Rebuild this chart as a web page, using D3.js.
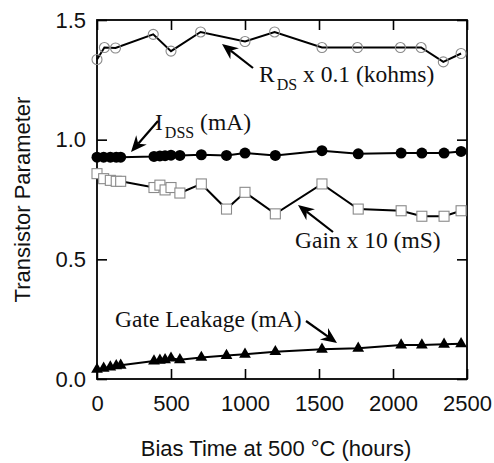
<!DOCTYPE html>
<html>
<head>
<meta charset="utf-8">
<script src="https://cdn.jsdelivr.net/npm/d3@7"></script>
<style>
  html, body { margin: 0; padding: 0; background: #fff; }
  svg { display: block; }
</style>
</head>
<body>
<svg id="chart" width="494" height="463"></svg>
<script>
// ---- data ----
const rdsHours   = [0, 50, 125, 380, 500, 700, 1000, 1200, 1520, 1760, 2050, 2190, 2340, 2460];
const rdsValues  = [1.335, 1.385, 1.383, 1.44, 1.37, 1.45, 1.41, 1.45, 1.385, 1.385, 1.385, 1.385, 1.325, 1.36];

const commonHours = [0, 45, 90, 130, 160, 385, 425, 460, 500, 560, 705, 875, 1000, 1205, 1520, 1765, 2055, 2195, 2345, 2460];
const idssValues  = [0.927, 0.927, 0.927, 0.927, 0.927, 0.93, 0.932, 0.933, 0.935, 0.934, 0.937, 0.934, 0.944, 0.934, 0.954, 0.941, 0.944, 0.944, 0.944, 0.951];
const gainValues  = [0.858, 0.837, 0.83, 0.826, 0.826, 0.80, 0.81, 0.79, 0.80, 0.777, 0.815, 0.71, 0.78, 0.69, 0.815, 0.71, 0.703, 0.68, 0.68, 0.703];
const leakValues  = [0.04, 0.045, 0.05, 0.055, 0.057, 0.075, 0.078, 0.08, 0.087, 0.08, 0.09, 0.098, 0.103, 0.114, 0.124, 0.128, 0.142, 0.142, 0.145, 0.147];

const xTicks = [0, 500, 1000, 1500, 2000, 2500];
const yTicks = [0.0, 0.5, 1.0, 1.5];
const xTitle = "Bias Time at 500 °C (hours)";
const yTitle = "Transistor Parameter";

// ---- layout ----
const W = 494, H = 463;
const m = {left: 97, right: 27, top: 20, bottom: 84};
const iw = W - m.left - m.right, ih = H - m.top - m.bottom;

const svg = d3.select("#chart");
const g = svg.append("g").attr("transform", `translate(${m.left},${m.top})`);

const x = d3.scaleLinear().domain([0, 2500]).range([0, iw]);
const y = d3.scaleLinear().domain([0, 1.5]).range([ih, 0]);

const sans = "Liberation Sans, Arial, Helvetica, sans-serif";
const serif = "Liberation Serif, Times New Roman, serif";

// axes
function styleAxis(sel, showLabels) {
  sel.select(".domain").remove();
  sel.selectAll(".tick line").attr("stroke", "#000").attr("stroke-width", 1.6);
  sel.selectAll(".tick text").attr("fill", "#111").style("font-family", sans).style("font-size", "22px");
  if (!showLabels) sel.selectAll(".tick text").remove();
}
g.append("g").attr("transform", `translate(0,${ih})`)
  .call(d3.axisBottom(x).tickValues(xTicks).tickFormat(d3.format("d")).tickSizeInner(-10).tickSizeOuter(0).tickPadding(16))
  .call(s => styleAxis(s, true));
g.append("g")
  .call(d3.axisTop(x).tickValues(xTicks).tickSizeInner(-10).tickSizeOuter(0))
  .call(s => styleAxis(s, false));
g.append("g")
  .call(d3.axisLeft(y).tickValues(yTicks).tickFormat(d3.format(".1f")).tickSizeInner(-10).tickSizeOuter(0).tickPadding(11))
  .call(s => styleAxis(s, true));
g.append("g").attr("transform", `translate(${iw},0)`)
  .call(d3.axisRight(y).tickValues(yTicks).tickSizeInner(-10).tickSizeOuter(0))
  .call(s => styleAxis(s, false));

g.append("rect").attr("x", 0).attr("y", 0).attr("width", iw).attr("height", ih)
  .attr("fill", "none").attr("stroke", "#000").attr("stroke-width", 1.8);

// titles
svg.append("text").attr("x", m.left + iw / 2 - 6).attr("y", 456)
  .attr("text-anchor", "middle").style("font-family", sans).style("font-size", "22px").attr("fill", "#111")
  .text(xTitle);
svg.append("text").attr("transform", `translate(30,${m.top + ih / 2}) rotate(-90)`)
  .attr("text-anchor", "middle").style("font-family", sans).style("font-size", "22px").attr("fill", "#111")
  .text(yTitle);

// lines
const line = d3.line().x(d => x(d[0])).y(d => y(d[1]));
function series(hours, vals) { return hours.map((h, i) => [h, vals[i]]); }
const rds = series(rdsHours, rdsValues);
const idss = series(commonHours, idssValues);
const gain = series(commonHours, gainValues);
const leak = series(commonHours, leakValues);

[rds, idss, gain, leak].forEach(s => {
  g.append("path").datum(s).attr("d", line).attr("fill", "none").attr("stroke", "#000").attr("stroke-width", 2);
});

// markers
g.append("g").selectAll("circle").data(rds).join("circle")
  .attr("cx", d => x(d[0])).attr("cy", d => y(d[1])).attr("r", 5)
  .attr("fill", "none").attr("stroke", "#8a8a8a").attr("stroke-width", 1.1);
g.append("g").selectAll("circle").data(idss).join("circle")
  .attr("cx", d => x(d[0])).attr("cy", d => y(d[1])).attr("r", 5.5)
  .attr("fill", "#000");
g.append("g").selectAll("rect").data(gain).join("rect")
  .attr("x", d => x(d[0]) - 5).attr("y", d => y(d[1]) - 5).attr("width", 10).attr("height", 10)
  .attr("fill", "#fff").attr("stroke", "#8a8a8a").attr("stroke-width", 1.1);
const tri = d3.symbol().type(d3.symbolTriangle).size(60);
g.append("g").selectAll("path").data(leak).join("path")
  .attr("transform", d => `translate(${x(d[0])},${y(d[1])})`).attr("d", tri).attr("fill", "#000");

// annotations (pixel positions in svg space)
function arrow(x1, y1, x2, y2) {
  const ang = Math.atan2(y2 - y1, x2 - x1);
  const L = 16, Wd = 7, notch = 11;
  const bx = x2 - L * Math.cos(ang), by = y2 - L * Math.sin(ang);
  const nx = x2 - notch * Math.cos(ang), ny = y2 - notch * Math.sin(ang);
  const px = -Math.sin(ang), py = Math.cos(ang);
  svg.append("line").attr("x1", x1).attr("y1", y1).attr("x2", nx).attr("y2", ny)
    .attr("stroke", "#000").attr("stroke-width", 2.2);
  svg.append("path")
    .attr("d", `M${x2},${y2} L${bx + px * Wd},${by + py * Wd} L${nx},${ny} L${bx - px * Wd},${by - py * Wd} Z`)
    .attr("fill", "#000");
}
function label(xp, yp, main, sub, rest) {
  const t = svg.append("text").attr("x", xp).attr("y", yp)
    .style("font-family", serif).style("font-size", "23.5px").attr("fill", "#111");
  t.append("tspan").text(main);
  if (sub) {
    t.append("tspan").attr("dx", 2).attr("dy", 8).style("font-size", "16px").text(sub);
    t.append("tspan").attr("dy", -8).text(rest);
  }
}
label(259, 82, "R", "DS", " x 0.1 (kohms)");
arrow(253, 68, 222, 44);
label(155, 130, "I", "DSS", " (mA)");
arrow(158, 121, 131, 152);
label(295, 248, "Gain x 10 (mS)");
arrow(333, 232, 298, 205);
label(115, 327, "Gate Leakage (mA)");
arrow(306, 321, 337, 343);
</script>
</body>
</html>
